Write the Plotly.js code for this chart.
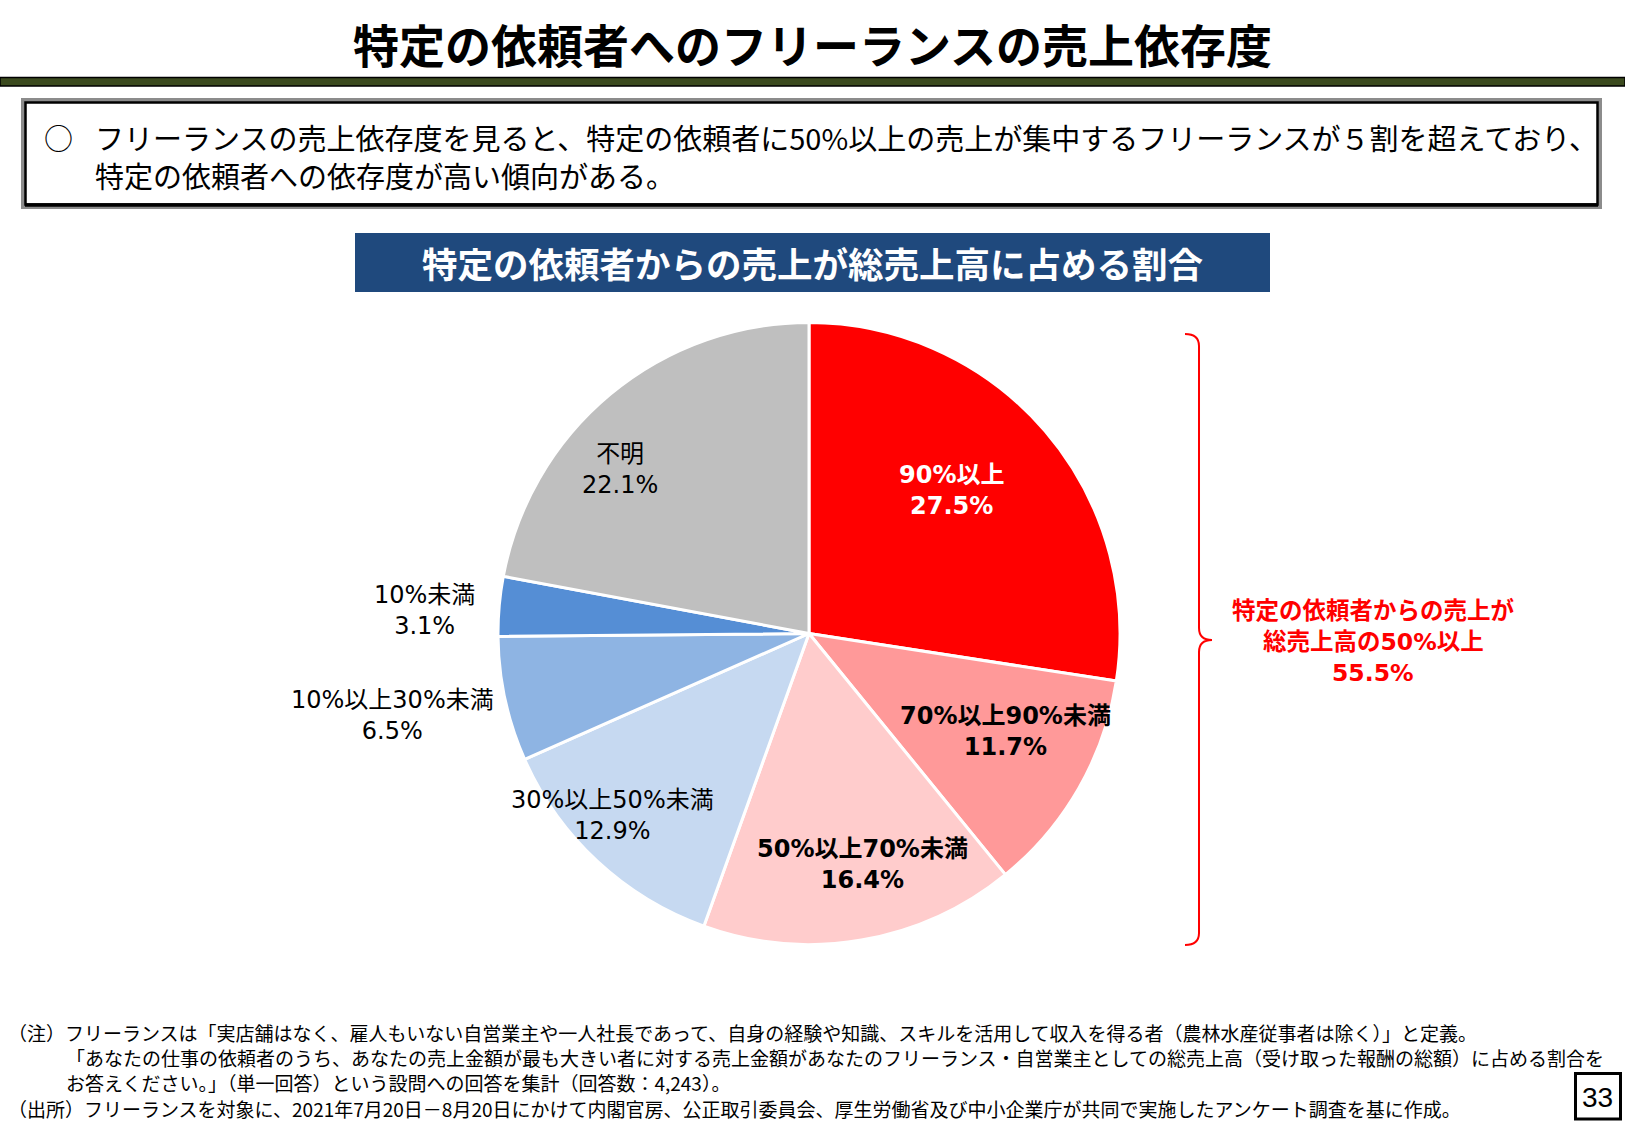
<!DOCTYPE html>
<html><head><meta charset="utf-8">
<script src="https://cdn.plot.ly/plotly-3.0.1.min.js"></script>
<style>html,body{margin:0;padding:0;background:#fff}#chart{width:1625px;height:1125px}</style>
</head><body><div id="chart"></div>
<script>
// ---- data ----
const categories = ["90%以上","70%以上90%未満","50%以上70%未満","30%以上50%未満","10%以上30%未満","10%未満","不明"];
const shares = [27.5, 11.7, 16.4, 12.9, 6.5, 3.1, 22.1];
const sliceColors = ["#FF0000","#FF9999","#FFCCCC","#C6D9F1","#8EB4E3","#558ED5","#BFBFBF"];
const pageTitle = "特定の依頼者へのフリーランスの売上依存度";
const summaryLines = ["フリーランスの売上依存度を見ると、特定の依頼者に50%以上の売上が集中するフリーランスが５割を超えており、","特定の依頼者への依存度が高い傾向がある。"];
const chartTitle = "特定の依頼者からの売上が総売上高に占める割合";
const bracketLines = ["特定の依頼者からの売上が","総売上高の50%以上","55.5%"];
const notes = [
 "（注）フリーランスは「実店舗はなく、雇人もいない自営業主や一人社長であって、自身の経験や知識、スキルを活用して収入を得る者（農林水産従事者は除く）」と定義。",
 "「あなたの仕事の依頼者のうち、あなたの売上金額が最も大きい者に対する売上金額があなたのフリーランス・自営業主としての総売上高（受け取った報酬の総額）に占める割合を",
 "お答えください。」（単一回答）という設問への回答を集計（回答数：4,243）。",
 "（出所）フリーランスを対象に、2021年7月20日－8月20日にかけて内閣官房、公正取引委員会、厚生労働省及び中小企業庁が共同で実施したアンケート調査を基に作成。"
];
const pageNumber = "33";

// ---- layout helpers ----
const W = 1625, H = 1125;
const px = x => x / W;
const py = y => 1 - y / H;
const JP = "Noto Sans CJK JP, sans-serif";
const LAT = "DejaVu Sans, Noto Sans CJK JP, sans-serif";

const cx = 809, cy = 633.5, R = 311;

const labelPos = [[952,491],[1005,731],[862,864],[612,815],[392,715],[424,610],[620,469]];
const labelStyle = [
  {color:"#FFFFFF", bold:true},{color:"#000000", bold:true},{color:"#000000", bold:true},
  {color:"#000000", bold:false},{color:"#000000", bold:false},{color:"#000000", bold:false},{color:"#000000", bold:false}
];

const annotations = [];
categories.forEach((c,i)=>{
  const t = c + "<br>" + shares[i].toFixed(1) + "%";
  annotations.push({
    xref:"paper", yref:"paper", x:px(labelPos[i][0]), y:py(labelPos[i][1]),
    xanchor:"center", yanchor:"middle", showarrow:false, align:"center",
    text: labelStyle[i].bold ? "<b>"+t+"</b>" : t,
    font:{family:LAT, size:24, color:labelStyle[i].color}
  });
});

// summary box text
annotations.push({xref:"paper",yref:"paper",x:px(42),y:py(137),xanchor:"left",yanchor:"middle",showarrow:false,
  text:"○",font:{family:JP,size:29,color:"#000"}});
summaryLines.forEach((l,i)=>{
  annotations.push({xref:"paper",yref:"paper",x:px(93),y:py(137+38*i),xanchor:"left",yanchor:"middle",showarrow:false,
    text:l,font:{family:JP,size:29,color:"#000"}});
});
// banner
annotations.push({xref:"paper",yref:"paper",x:px(812),y:py(263),xanchor:"center",yanchor:"middle",showarrow:false,
  text:"<b>"+chartTitle+"</b>",font:{family:JP,size:35.5,color:"#FFFFFF"}});
// bracket text
bracketLines.forEach((l,i)=>{
  annotations.push({xref:"paper",yref:"paper",x:px(1373),y:py(611+31*i),xanchor:"center",yanchor:"middle",showarrow:false,
    text:"<b>"+l+"</b>",font:{family:LAT,size:23.5,color:"#FF0000"}});
});
// notes
const noteX = [6,64,64,6], noteY = [1032,1057,1082,1108], noteSize = [19,19,19,19];
notes.forEach((l,i)=>{
  annotations.push({xref:"paper",yref:"paper",x:px(noteX[i]),y:py(noteY[i]),xanchor:"left",yanchor:"middle",showarrow:false,
    text:l,font:{family:JP,size:noteSize[i],color:"#000"}});
});
annotations.push({xref:"paper",yref:"paper",x:px(1597.5),y:py(1097),xanchor:"center",yanchor:"middle",showarrow:false,
  text:pageNumber,font:{family:"Liberation Sans, Arial, sans-serif",size:28,color:"#000"}});

const P = (x,y)=> px(x).toFixed(5)+","+py(y).toFixed(5);
const bracePath = "M"+P(1185,334)+" Q"+P(1199,334)+" "+P(1199,346)+" L"+P(1199,628)+" Q"+P(1199,640)+" "+P(1212,640)+
  " Q"+P(1199,640)+" "+P(1199,652)+" L"+P(1199,933)+" Q"+P(1199,945)+" "+P(1185,945);

const rect = (x0,y0,x1,y1,fill,line,lw)=>({type:"rect",xref:"paper",yref:"paper",x0:px(x0),x1:px(x1),y0:py(y1),y1:py(y0),
  fillcolor:fill,line:{color:line||fill,width:lw||0},layer:"above"});

const shapes = [
  rect(0,77.5,W,86,"#3B4A1E","#000000",1.5),
  rect(23,100,1600,207,"#FFFFFF","#8C8C8C",4),
  rect(25.5,102.5,1597.5,204.5,"#FFFFFF","#000000",2.5),
  {type:"line",xref:"paper",yref:"paper",x0:px(25),x1:px(1598),y0:py(205),y1:py(205),line:{color:"#000",width:3.5},layer:"above"},
  rect(355,233,1270,292,"#1F497D"),
  rect(1575.5,1073.5,1620.5,1119,"#FFFFFF","#000000",3),
  {type:"path",xref:"paper",yref:"paper",path:bracePath,line:{color:"#FF0000",width:2},layer:"above"}
];

const trace = {
  type:"pie", labels:categories, values:shares, sort:false, direction:"clockwise", rotation:0,
  marker:{colors:sliceColors, line:{color:"#FFFFFF", width:3}},
  textinfo:"none", hoverinfo:"label+value", showlegend:false,
  domain:{x:[px(cx-R), px(cx+R)], y:[py(cy+R), py(cy-R)]}
};

const layout = {
  width:W, height:H, margin:{l:0,r:0,t:0,b:0}, paper_bgcolor:"#FFFFFF",
  title:{text:"<b>"+pageTitle+"</b>", x:0.5, xanchor:"center", xref:"paper", yref:"container", y:py(47), yanchor:"middle",
    font:{family:JP, size:46, color:"#000"}},
  shapes:shapes, annotations:annotations, showlegend:false
};
Plotly.newPlot("chart",[trace],layout,{displayModeBar:false,staticPlot:true});
</script></body></html>
